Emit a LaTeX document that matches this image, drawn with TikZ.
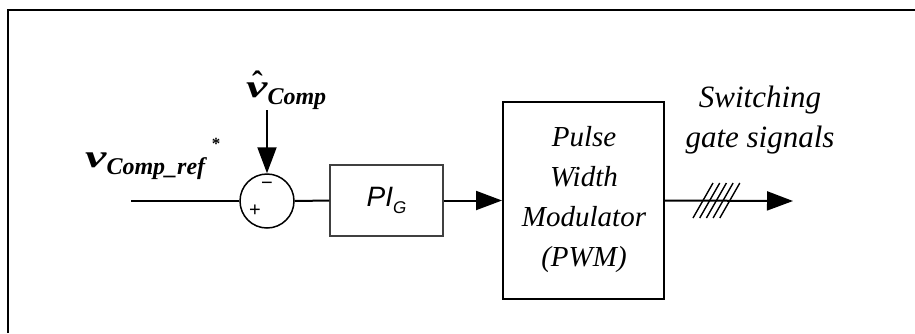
\documentclass[tikz,border=0pt]{standalone}
\usepackage{fontspec}
\setmainfont{Liberation Serif}
\newfontfamily\sansf{Liberation Sans}
\usetikzlibrary{arrows.meta}
\begin{document}
\begin{tikzpicture}[x=1pt,y=-1pt,
  sig/.style={line width=2pt},
  tip/.style={-{Triangle[length=26pt,width=19pt]}},
  blk/.style={draw,line width=1.3pt,minimum width=113pt,minimum height=71pt,inner sep=0pt},
  pwmbox/.style={draw,line width=2pt,minimum width=161pt,minimum height=197pt,inner sep=0pt,align=center},
  sumc/.style={draw,line width=1.5pt,circle,minimum size=54pt,inner sep=0pt},
  lbl/.style={inner sep=0pt,font=\fontsize{31}{40}\selectfont\itshape},
  hatch/.style={line width=1.4pt}]
\useasboundingbox (0,0) rectangle (915,333);
\draw[line width=2.5pt] (8,333) -- (8,10) -- (915,10);
% blocks
\node[sumc] (sum) at (267,201) {};
\node[blk,draw=black!75] (pi) at (386.5,200.5) {\sansf\itshape\fontsize{28}{28}\selectfont PI\raisebox{-7pt}{\fontsize{17}{17}\selectfont G}};
\node[pwmbox] (pwm) at (583.5,200.5) {};
\node[lbl,align=center,font=\fontsize{29}{40}\selectfont\itshape] (pwmtxt) at (584,200) {Pulse\\Width\\Modulator\\(PWM)};
% signs
\node[inner sep=0pt,font=\sansf\fontsize{20}{20}\selectfont] (minus) at (267,186) {\textminus};
\node[inner sep=0pt,font=\sansf\fontsize{20}{20}\selectfont] (plus) at (255,211) {+};
% inputs
\coordinate (in) at (131,201);
\coordinate (vh) at (267,110);
\coordinate (out) at (793,201);
\draw[sig] (in) -- (sum.west);
\draw[sig,tip] (vh) -- (sum.north);
\draw[sig] (sum.east) -- (pi.west);
\draw[sig,tip] (pi.east) -- (pwm.west);
\draw[sig,tip] (pwm.east) -- (out);
% hatch marks
\foreach \i in {0,...,4}{
  \draw[hatch] ({693+6.7*\i},218) -- ({713+6.7*\i},183);
}
% labels
\node[inner sep=0pt,anchor=base west] (vref) at (85,167)
  {\bfseries\itshape\fontsize{32}{32}\selectfont\scalebox{1.5}[1]{v}\raisebox{-7pt}{\fontsize{24}{24}\selectfont Comp\_ref}};
\node[inner sep=0pt,font=\bfseries\fontsize{17}{17}\selectfont] (star) at (216,144) {*};
\node[inner sep=0pt,anchor=base west] (vhat) at (246,97)
  {\bfseries\itshape\fontsize{32}{32}\selectfont\rlap{\hspace{6pt}\raisebox{4pt}{\upshape\char"02C6}}\scalebox{1.5}[1]{v}\raisebox{-7pt}{\fontsize{24}{24}\selectfont Comp}};
\node[lbl,align=center] (sw) at (760,120) {Switching\\gate signals};
\end{tikzpicture}
\end{document}
